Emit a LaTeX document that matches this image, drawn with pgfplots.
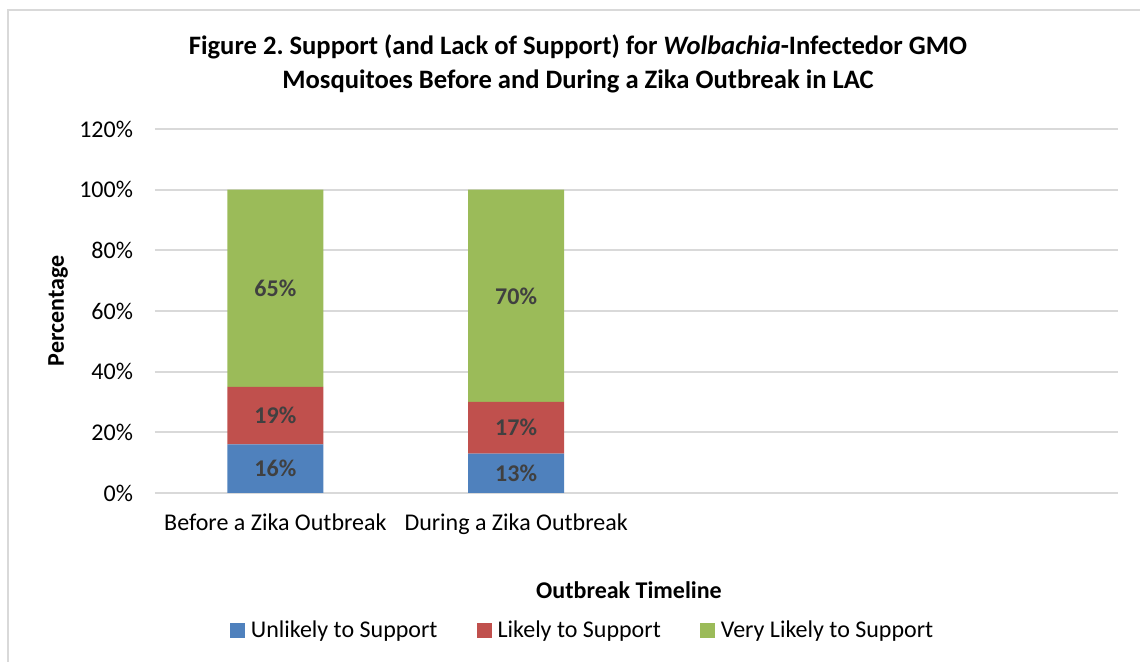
\documentclass[border=0pt]{standalone}
\usepackage{fontspec}
\setmainfont{Carlito}
\usepackage{pgfplots}
\pgfplotsset{compat=1.18}
\frenchspacing

\definecolor{xlblue}{HTML}{4F81BD}
\definecolor{xlred}{HTML}{C0504D}
\definecolor{xlgreen}{HTML}{9BBB59}
\definecolor{gridgray}{HTML}{D9D9D9}
\definecolor{lblgray}{HTML}{404040}

\begin{document}
\begin{tikzpicture}
% page frame, plot area lower-left corner at the origin (1px = 0.5pt)
\useasboundingbox (-77.5pt,-84.5pt) rectangle (492.5pt,246.5pt);
\draw[gridgray, line width=1pt] (-73.5pt,241.5pt) rectangle (520pt,-110pt);
\node[font=\fontsize{13.3}{16}\selectfont\bfseries] at (211.5pt,223pt)
  {Figure 2. Support (and Lack of Support) for \textit{Wolbachia}-Infectedor GMO};
\node[font=\fontsize{13.3}{16}\selectfont\bfseries] at (211.5pt,206pt)
  {Mosquitoes Before and During a Zika Outbreak in LAC};
\begin{axis}[
  at={(0pt,0pt)}, anchor=south west,
  scale only axis, width=481.5pt, height=182pt,
  ybar stacked, bar width=48pt,
  xmin=-0.5, xmax=3.5, ymin=0, ymax=120,
  ytick={0,20,...,120},
  yticklabel={\pgfmathprintnumber{\tick}\%},
  xtick={0,1},
  xticklabels={Before a Zika Outbreak, During a Zika Outbreak},
  /pgf/number format/assume math mode=true,
  ticklabel style={font=\fontsize{12}{14}\selectfont},
  yticklabel style={xshift=-7.5pt},
  xticklabel style={yshift=-7pt},
  ymajorgrids, grid style={gridgray, line width=1pt},
  axis line style={draw=none}, tick style={draw=none},
  every axis y label/.style={at={(rel axis cs:-0.1007,0.5)}, rotate=90, anchor=center},
  every axis x label/.style={at={(rel axis cs:0.4922,-0.2665)}, anchor=center},
  ylabel={\fontsize{12}{14}\selectfont\bfseries Percentage},
  xlabel={\fontsize{12}{14}\selectfont\bfseries Outbreak Timeline},
  visualization depends on=rawy \as \rawy,
  nodes near coords={\pgfmathprintnumber{\rawy}\%},
  every node near coord/.append style={font=\fontsize{12}{14}\selectfont\bfseries,
    color=lblgray, anchor=center},
  legend columns=3,
  legend style={at={(0.444,-0.379)}, anchor=center, draw=none, fill=none,
    font=\fontsize{12}{14}\selectfont,
    nodes={inner sep=1pt},
    /tikz/every odd column/.append style={column sep=2pt},
    /tikz/every even column/.append style={column sep=18.5pt}},
  legend image code/.code={\fill[#1] (0pt,-3.75pt) rectangle (7.5pt,3.75pt);},
]
\addplot[fill=xlblue, draw=none] coordinates {(0,16) (1,13)};
\addlegendentry{Unlikely to Support}
\addplot[fill=xlred, draw=none] coordinates {(0,19) (1,17)};
\addlegendentry{Likely to Support}
\addplot[fill=xlgreen, draw=none] coordinates {(0,65) (1,70)};
\addlegendentry{Very Likely to Support}
\end{axis}
\end{tikzpicture}
\end{document}
